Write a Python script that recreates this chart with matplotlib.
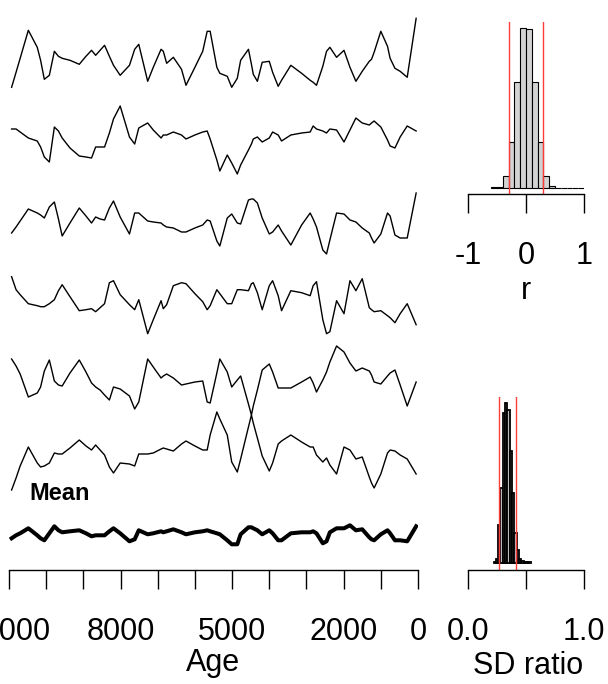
import numpy as np
import matplotlib
matplotlib.use("Agg")
import matplotlib.pyplot as plt

plt.rcParams["font.family"] = ["Liberation Sans", "DejaVu Sans"]
plt.rcParams["axes.unicode_minus"] = False

# ages of the samples (yr BP)
ages = [10930, 10810, 10700, 10480, 10240, 10150, 10050, 9915, 9780, 9670,
        9570, 9360, 9110, 8930, 8780, 8670, 8550, 8430, 8300, 8190,
        8010, 7760, 7620, 7510, 7270, 7120, 6910, 6850, 6760, 6580,
        6360, 6240, 6000, 5790, 5670, 5590, 5410, 5330, 5130, 5010,
        4860, 4770, 4560, 4480, 4430, 4320, 4190, 4000, 3910, 3760,
        3670, 3420, 3130, 2900, 2820, 2730, 2560, 2460, 2370, 2190,
        1990, 1830, 1670, 1500, 1310, 1250, 1180, 1000, 820, 750,
        620, 480, 290, 50]

s1 = [-2.9, -1.4, 0.0, 2.8, 1.1, -0.2, -2.1, -1.7, 0.7, 0.2,
      0.0, -0.2, -0.6, 0.2, 0.8, 0.3, 0.8, 1.3, 0.2, -0.7,
      -1.7, -0.7, 0.9, 1.4, -2.3, -0.9, 0.9, 0.7, -0.5, 0.1,
      -1.1, -2.7, -0.9, 0.7, 2.7, 2.7, -0.9, -1.5, -1.8, -2.9,
      -2.0, -0.2, 0.9, -0.6, -1.6, -2.3, -0.4, -0.3, -1.4, -2.8,
      -2.2, -0.7, -1.5, -2.2, -2.4, -2.7, -0.8, 0.7, 1.1, 0.1,
      0.8, -0.9, -2.3, -1.3, -0.3, -0.1, 0.6, 2.7, 1.2, 0.0,
      -1.0, -1.3, -1.9, 4.0]
s2 = [1.1, 1.1, 0.8, 0.2, -0.1, -0.7, -1.7, -2.2, 1.3, 0.9,
      0.2, -0.8, -1.6, -1.7, -1.8, -0.7, -0.7, -0.7, 0.7, 2.1,
      3.4, 0.3, -0.4, 1.2, 1.7, 1.0, 0.2, 0.5, 0.5, 0.8,
      0.5, 0.1, 0.5, 0.8, 0.9, 0.1, -2.0, -3.1, -1.5, -2.3,
      -3.4, -2.5, -1.0, -0.4, 0.1, 0.3, -0.2, 0.2, 0.8, 0.5,
      -0.1, 0.5, 0.7, 0.8, 1.4, 1.1, 0.9, 0.7, 1.1, 1.0,
      -0.2, 1.0, 2.2, 1.7, 1.5, 1.7, 1.9, 1.3, 0.0, -0.6,
      -0.8, 0.3, 1.4, 0.9]
s3 = [-1.3, -0.7, -0.1, 1.1, 0.7, 0.5, 0.2, 1.3, 1.8, 0.1,
      -1.6, -0.3, 1.2, 0.4, -0.3, 0.3, 0.1, 0.0, 1.2, 1.9,
      0.3, -1.4, 0.7, 0.7, -0.1, -0.2, -0.3, -0.5, -0.7, -0.8,
      -1.2, -1.2, -0.8, -0.5, 0.0, -0.1, -2.1, -2.6, 0.2, 0.6,
      -0.3, -0.4, 2.0, 2.1, 2.1, 1.7, 0.2, -1.4, -1.2, -0.5,
      -1.1, -2.5, -0.5, 0.7, 0.1, -0.7, -3.0, -3.4, -2.0, 0.7,
      0.6, 0.0, -0.2, -0.8, -1.3, -1.8, -2.3, -1.4, 0.7, 0.4,
      -1.5, -1.8, -1.8, 2.7]
s4 = [2.5, 1.2, 0.7, -0.2, -0.4, -0.5, -0.5, -0.2, 0.2, 1.1,
      1.7, 0.5, -0.9, -0.8, -0.7, -1.0, -0.6, -0.2, 1.9, 2.1,
      0.7, -0.3, -0.8, 0.2, -3.2, -1.8, 0.1, -0.7, -0.3, 1.6,
      1.9, 1.8, 0.8, 0.0, -0.8, -0.4, 1.2, 0.8, -0.2, -0.2,
      1.2, 1.2, 1.1, 1.8, 1.9, 0.9, -0.8, 1.6, 2.1, 0.6,
      -0.9, 1.1, 0.9, 0.6, 1.6, 2.0, -1.8, -3.2, -3.0, 0.1,
      -1.2, 2.1, 1.1, 2.3, -0.6, -0.8, -1.0, -0.9, -1.4, -1.6,
      -2.1, -1.2, -0.2, -2.3]
s5 = [2.3, 1.6, 0.8, -1.5, -1.1, -0.5, 1.1, 2.2, 0.1, -0.3,
      -0.4, 0.9, 2.2, 1.0, -0.1, -0.5, -0.8, -1.3, -1.8, -0.5,
      -0.7, -1.4, -2.7, -2.0, 2.3, 1.5, 0.4, 0.6, 0.8, 0.4,
      -0.3, -0.2, 0.0, 0.1, -2.0, -2.1, 0.9, 2.3, 1.0, -0.5,
      0.2, 0.6, -2.2, -3.3, -2.4, -0.8, 1.2, 1.8, 1.0, -0.6,
      -0.6, -0.6, 0.0, 0.5, -0.1, -1.0, 0.2, 1.0, 2.0, 3.6,
      3.0, 1.9, 1.1, 1.4, 1.1, 0.7, 0.0, -0.2, 0.6, 0.9,
      1.2, -0.3, -2.4, 0.0]
s6 = [-2.7, -1.5, -0.3, 1.6, 0.0, -0.4, -0.3, 0.0, 1.0, 0.9,
      0.9, 1.5, 2.3, 1.7, 1.3, 1.8, 1.3, 0.8, -0.4, -1.0,
      0.0, -0.1, -0.3, 0.9, 0.9, 1.0, 1.4, 1.5, 1.4, 1.2,
      1.9, 2.2, 1.7, 1.3, 1.3, 2.8, 5.1, 4.4, 2.8, 0.1,
      -0.9, 0.4, 3.6, 4.8, 4.0, 2.5, 0.7, -0.8, 0.0, 1.9,
      2.2, 2.8, 2.1, 1.6, 1.6, 0.8, 0.1, 0.5, -0.2, -1.1,
      1.6, 1.3, 0.4, 0.6, -1.4, -2.0, -2.5, -1.1, 1.0, 1.3,
      1.2, 0.8, 0.4, -1.1]
mean_curve = [-0.5, -0.2, 0.0, 0.5, -0.2, -0.5, -0.7, 0.0, 0.7, 0.3,
              0.1, 0.2, 0.3, 0.0, -0.3, -0.2, -0.2, -0.2, 0.2, 0.5,
              0.0, -0.8, -0.6, 0.3, -0.1, 0.0, 0.2, 0.1, 0.2, 0.4,
              0.1, -0.1, 0.1, 0.2, 0.3, 0.2, 0.0, -0.1, -0.7, -1.1,
              -1.1, -0.1, 0.6, 0.6, 0.5, 0.3, -0.1, 0.3, 0.0, -0.7,
              -0.7, 0.0, 0.1, 0.1, 0.2, 0.0, -1.0, -0.8, 0.1, 0.5,
              0.5, 0.8, 0.3, 0.4, -0.4, -0.6, -0.7, -0.1, 0.3, 0.0,
              -0.7, -0.7, -0.8, 0.7]

age_ticks = list(range(0, 11001, 1000))
age_labels = ["0", "", "2000", "", "", "5000", "", "", "8000", "", "", "11000"]

# correlation histogram (bins of 0.1)
r_left = [-0.6, -0.5, -0.4, -0.3, -0.2, -0.1, 0.0, 0.1, 0.2, 0.3, 0.4, 0.5, 0.6, 0.7, 0.8, 0.9]
r_counts = [3, 4, 38, 140, 320, 480, 477, 320, 140, 38, 7, 2, 2, 1, 1, 1]
r_limits = [-0.29, 0.29]

# SD ratio histogram (bins of 0.02)
sd_left = [0.22, 0.24, 0.26, 0.28, 0.30, 0.32, 0.34, 0.36, 0.38, 0.40, 0.42, 0.44, 0.46, 0.48, 0.50, 0.52]
sd_counts = [5, 13, 115, 225, 450, 482, 460, 337, 210, 90, 40, 13, 6, 5, 4, 3]
sd_limits = [0.267, 0.411]

W, H = 608, 684
fig = plt.figure(figsize=(W / 100, H / 100), dpi=100)


def box(x0, x1, ytop, ybot):
    return [x0 / W, 1 - ybot / H, (x1 - x0) / W, (ybot - ytop) / H]


# stacked series, offsets in units of 10 px
ax = fig.add_axes(box(9, 418, 10, 560))
offsets = [5.83, 14.0, 22.0, 30.17, 38.2, 46.3]
for s, off in zip([s1, s2, s3, s4, s5, s6], offsets):
    ax.plot(ages, np.array(s) - off, color="black", lw=1.0)
ax.plot(ages, np.array(mean_curve) - 53.33, color="black", lw=2.9,
        solid_joinstyle="round")
ax.text(10450, -49.3, "Mean", fontsize=17, fontweight="bold", va="center", ha="left")
ax.set_xlim(11000, 0)
ax.set_ylim(-56, -1)
for sp in ["top", "right", "left"]:
    ax.spines[sp].set_visible(False)
ax.spines["bottom"].set_position(("outward", 7.2))
ax.spines["bottom"].set_bounds(0, 11000)
ax.set_yticks([])
ax.set_xticks(age_ticks)
ax.set_xticklabels(age_labels)

# r histogram
axr = fig.add_axes(box(468, 584, 22, 194))
axr.bar(r_left, r_counts, width=0.1, align="edge", color="#d3d3d3",
        edgecolor="black", lw=0.8)
for v in r_limits:
    axr.axvline(v, color="#ff3b3b", lw=1.0)
axr.set_xlim(-1, 1)
axr.set_ylim(-17, 499)
for sp in ["top", "right", "left"]:
    axr.spines[sp].set_visible(False)
axr.spines["bottom"].set_bounds(-1, 1)
axr.set_yticks([])
axr.set_xticks([-1, 0, 1])
axr.set_xticklabels(["-1", "0", "1"])

# SD ratio histogram
axs = fig.add_axes(box(468, 584, 397, 570))
axs.bar(sd_left, sd_counts, width=0.02, align="edge", color="#bdbdbd",
        edgecolor="black", lw=1.3)
for v in sd_limits:
    axs.axvline(v, color="#ff3b3b", lw=1.0)
axs.set_xlim(0, 1)
axs.set_ylim(-20, 499)
for sp in ["top", "right", "left"]:
    axs.spines[sp].set_visible(False)
axs.spines["bottom"].set_bounds(0, 1)
axs.set_yticks([])
axs.set_xticks([0, 0.5, 1])
axs.set_xticklabels(["0.0", "", "1.0"])

for a in [ax, axr, axs]:
    a.spines["bottom"].set_linewidth(1.0)
    a.tick_params(axis="x", length=14, width=1.0, pad=20, labelsize=22)

fig.text(213 / W, 1 - 663 / H, "Age", fontsize=22, ha="center", va="center")
fig.text(526 / W, 1 - 291 / H, "r", fontsize=22, ha="center", va="center")
fig.text(528 / W, 1 - 666 / H, "SD ratio", fontsize=22, ha="center", va="center")

fig.savefig("out.png", dpi=100)
